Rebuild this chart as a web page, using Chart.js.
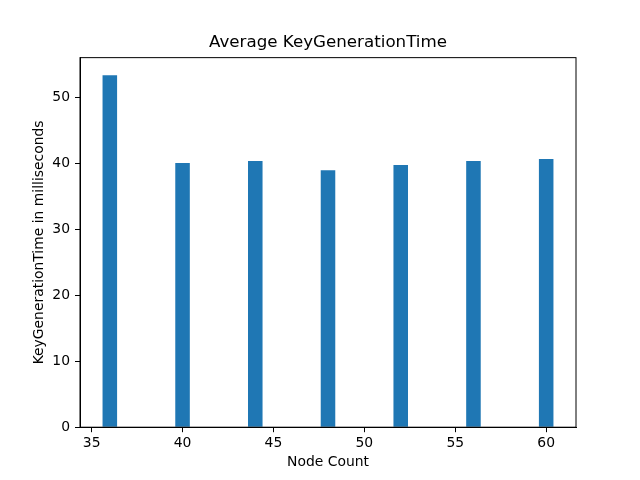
<!DOCTYPE html>
<html>
<head>
<meta charset="utf-8">
<script src="https://cdn.jsdelivr.net/npm/chart.js@4"></script>
<style>
  html, body { margin: 0; padding: 0; background: #fff; }
  #wrap { width: 640px; height: 480px; }
</style>
</head>
<body>
<div id="wrap"><canvas id="keyChart" width="640" height="480"></canvas></div>
<script>
// datos
const nodeCounts = [36, 40, 44, 48, 52, 56, 60];
const keyGenTimes = [53.3, 40.0, 40.3, 38.9, 39.7, 40.3, 40.6];

const chartTitle = "Average KeyGenerationTime";
const xTitle = "Node Count";
const yTitle = "KeyGenerationTime in milliseconds";

// márgenes estilo matplotlib (5%)
const barWidth = 0.8;
const xLo = Math.min(...nodeCounts) - barWidth / 2;
const xHi = Math.max(...nodeCounts) + barWidth / 2;
const xPad = (xHi - xLo) * 0.05;
const yMax = Math.max(...keyGenTimes) * 1.05;

const FONT = "'DejaVu Sans', sans-serif";

// marco completo alrededor del área del gráfico
const framePlugin = {
    id: "frame",
    afterDraw(chart) {
        const { ctx, chartArea: a } = chart;
        ctx.save();
        ctx.strokeStyle = "#000";
        ctx.lineWidth = 1;
        ctx.strokeRect(a.left, a.top, a.right - a.left, a.bottom - a.top);
        ctx.restore();
    }
};

Chart.defaults.font.family = FONT;
Chart.defaults.color = "#000";

const ctx = document.getElementById("keyChart").getContext("2d");

new Chart(ctx, {
    type: "bar",
    data: {
        datasets: [{
            data: nodeCounts.map((x, i) => ({ x: x, y: keyGenTimes[i] })),
            backgroundColor: "#1f77b4",
            borderWidth: 0,
            categoryPercentage: 1,
            barPercentage: barWidth / 4
        }]
    },
    options: {
        responsive: false,
        animation: false,
        devicePixelRatio: 1,
        layout: { padding: { left: 0, right: 64, top: 0, bottom: 0 } },
        plugins: {
            legend: { display: false },
            tooltip: { enabled: false },
            title: {
                display: true,
                fullSize: false,
                text: chartTitle,
                font: { size: 16.7, weight: "normal" },
                color: "#000",
                padding: { top: 33, bottom: 4.6 }
            }
        },
        scales: {
            x: {
                type: "linear",
                min: xLo - xPad,
                max: xHi + xPad,
                offset: false,
                grid: {
                    offset: false,
                    drawOnChartArea: false,
                    drawTicks: true,
                    tickLength: 5,
                    color: "#000"
                },
                border: { display: true, color: "#000" },
                ticks: {
                    stepSize: 5,
                    includeBounds: false,
                    padding: 3,
                    maxRotation: 0,
                    font: { size: 13.9 },
                    color: "#000"
                },
                title: {
                    display: true,
                    text: xTitle,
                    font: { size: 13.9 },
                    color: "#000",
                    padding: { top: 0, bottom: 9.7 }
                },
                afterFit(scale) { scale.height = 480 - 427.2; }
            },
            y: {
                min: 0,
                max: yMax,
                grid: {
                    drawOnChartArea: false,
                    drawTicks: true,
                    tickLength: 5,
                    color: "#000"
                },
                border: { display: true, color: "#000" },
                ticks: {
                    stepSize: 10,
                    includeBounds: false,
                    padding: 5,
                    font: { size: 13.9 },
                    color: "#000"
                },
                title: {
                    display: true,
                    text: yTitle,
                    font: { size: 13.9 },
                    color: "#000",
                    padding: { top: 31, bottom: 0 }
                },
                afterFit(scale) { scale.width = 80; }
            }
        }
    },
    plugins: [framePlugin]
});
</script>
</body>
</html>
